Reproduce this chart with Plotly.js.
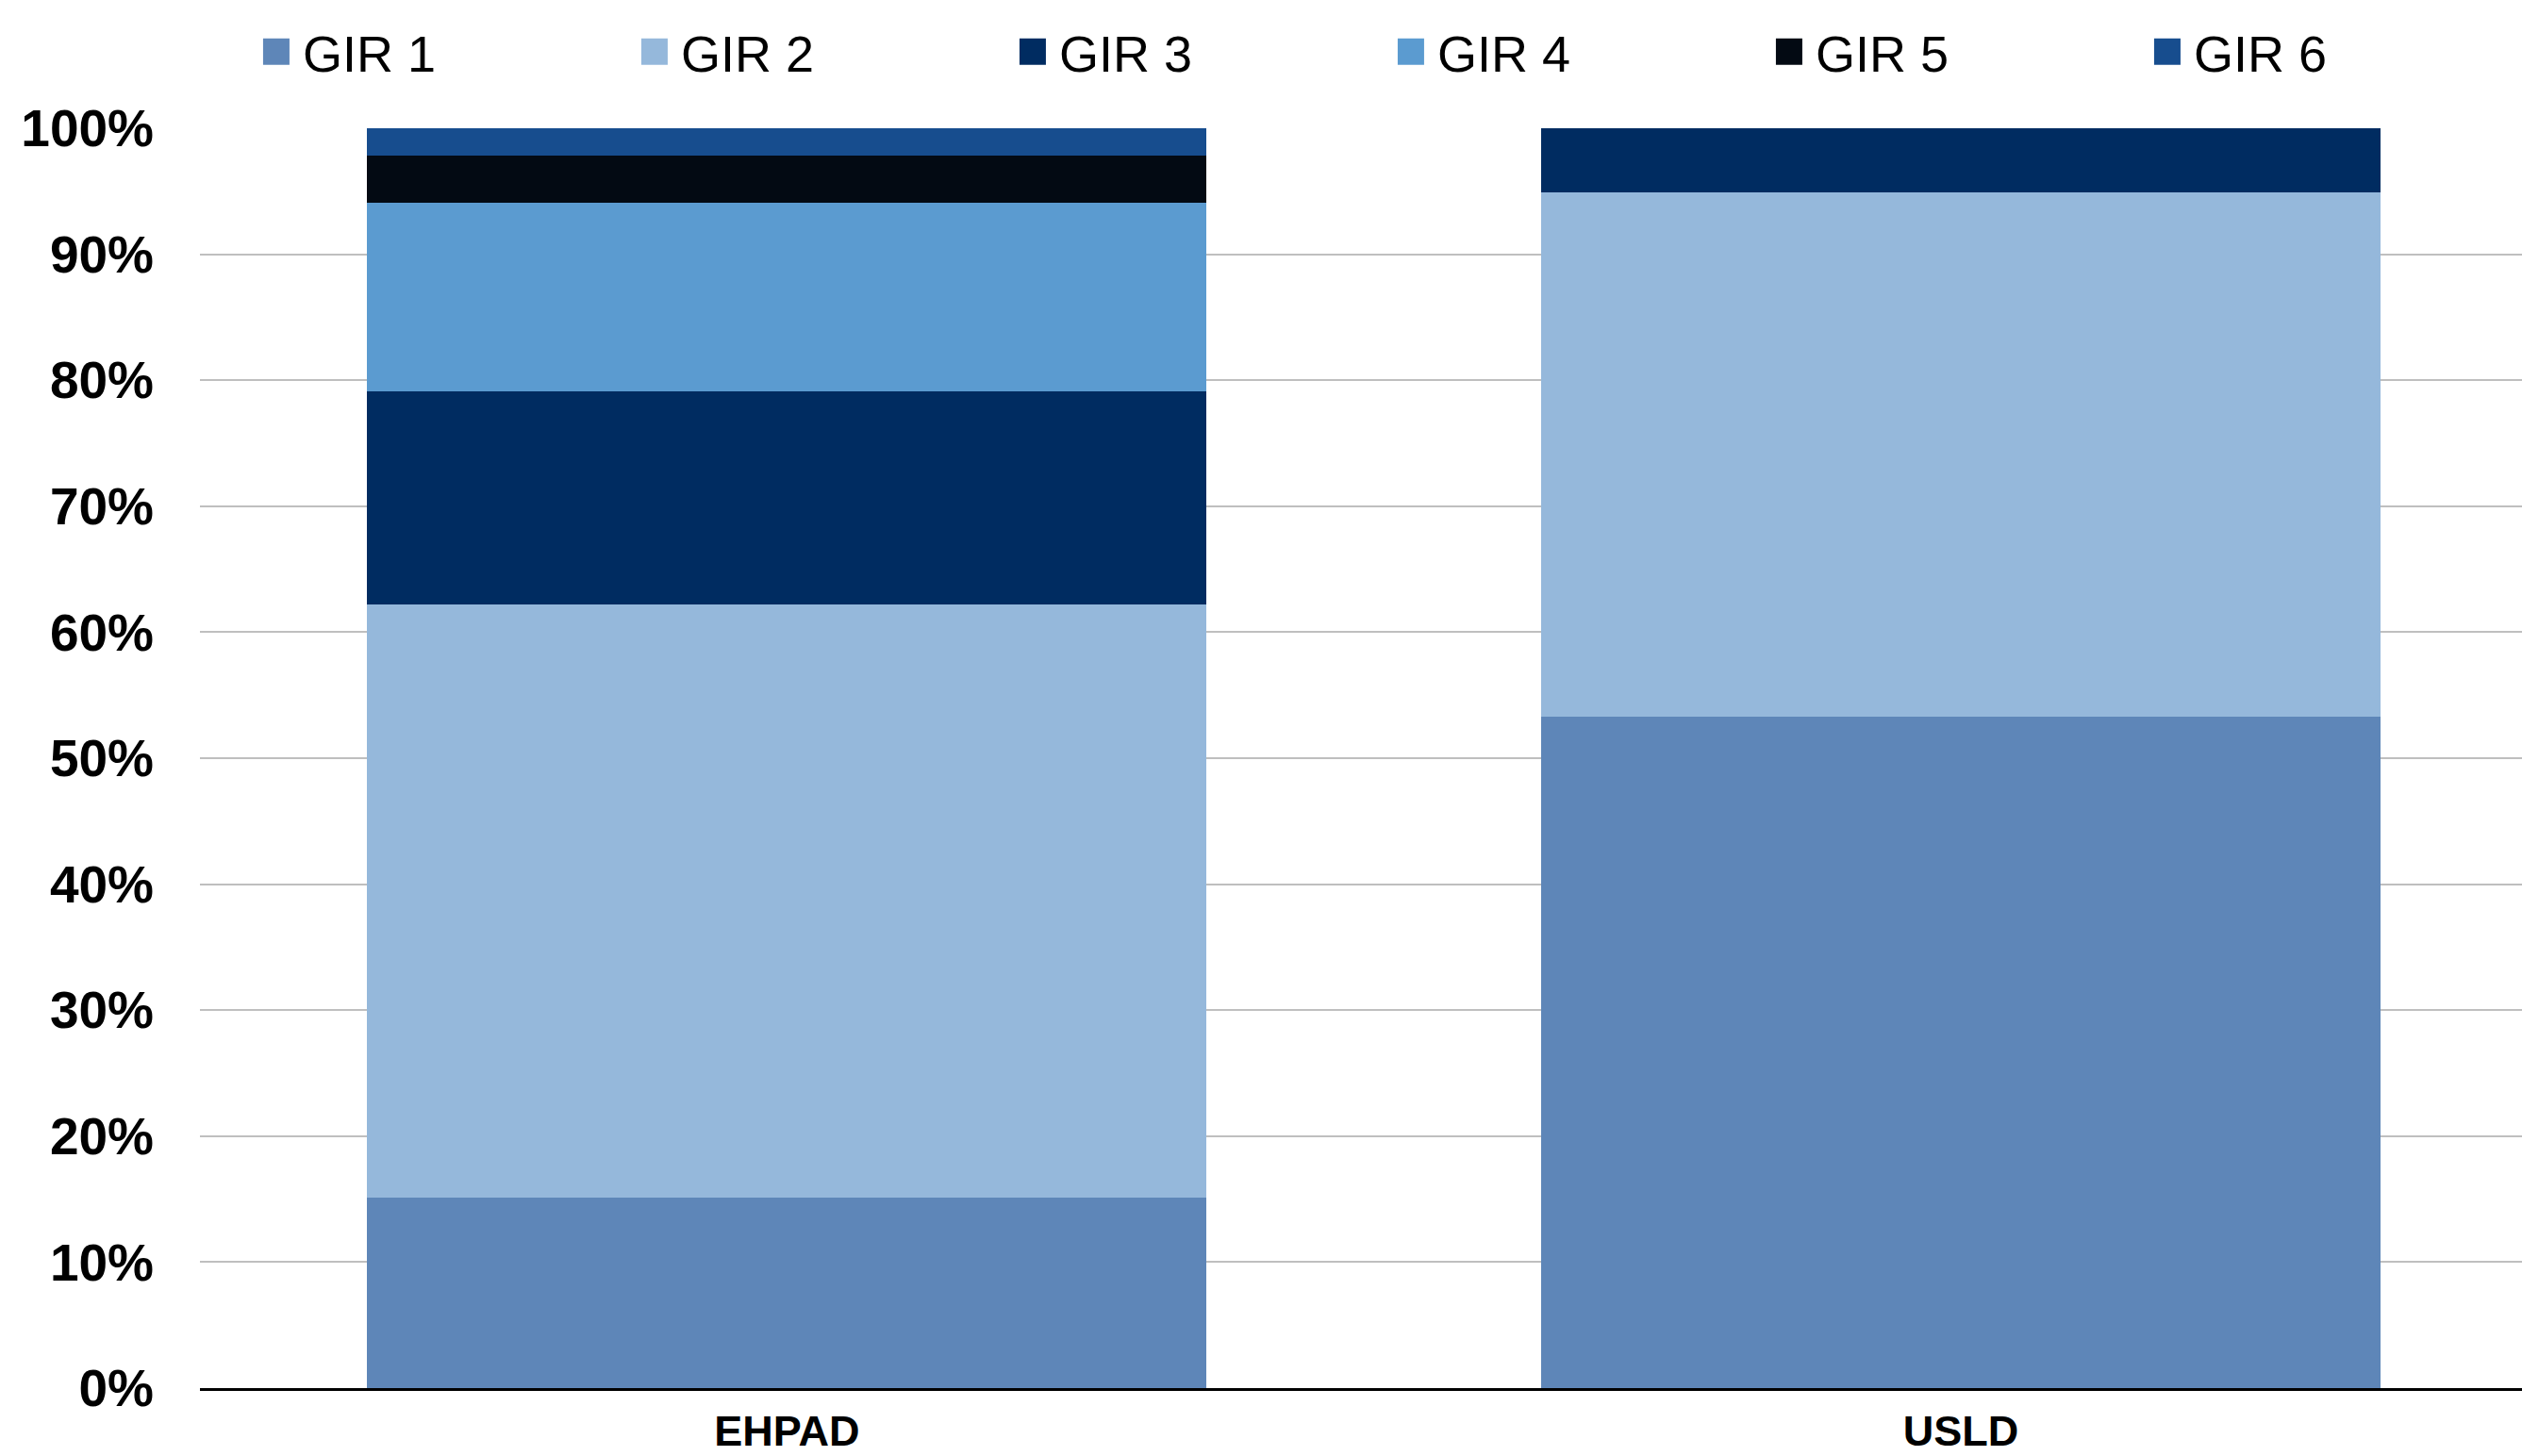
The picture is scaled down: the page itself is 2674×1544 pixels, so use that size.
<!DOCTYPE html>
<html>
<head>
<meta charset="utf-8">
<script src="https://cdn.plot.ly/plotly-3.0.1.min.js"></script>
<style>html,body{margin:0;padding:0;background:#fff;}#chart{width:2674px;height:1544px;}</style>
</head>
<body>
<div id="chart"></div>
<script>
var categories = ["EHPAD", "USLD"];
var seriesNames = ["GIR 1", "GIR 2", "GIR 3", "GIR 4", "GIR 5", "GIR 6"];
var gir1 = [0.151, 0.533];
var gir2 = [0.471, 0.416];
var gir3 = [0.169, 0.051];
var gir4 = [0.150, 0];
var gir5 = [0.037, 0];
var gir6 = [0.022, 0];
var colors = ["#5E86B8", "#95B8DB", "#002C61", "#5B9BD0", "#030A13", "#174D8E"];
var values = [gir1, gir2, gir3, gir4, gir5, gir6];

var traces = values.map(function (v, i) {
  return {
    type: "bar",
    name: seriesNames[i],
    x: categories,
    y: v,
    width: 0.715,
    marker: { color: colors[i], line: { width: 0 } },
    hoverinfo: "skip"
  };
});

var layout = {
  width: 2674,
  height: 1544,
  margin: { l: 212, r: 0, t: 136, b: 72, pad: 0 },
  paper_bgcolor: "#ffffff",
  plot_bgcolor: "#ffffff",
  barmode: "stack",
  font: { family: "Liberation Sans, Arial, sans-serif", color: "#000000" },
  showlegend: true,
  legend: {
    orientation: "h",
    x: 0.0215,
    xanchor: "left",
    y: 1.0605,
    yanchor: "middle",
    traceorder: "normal",
    itemwidth: 46,
    entrywidth: 340,
    font: { size: 54, family: "Liberation Sans, Arial, sans-serif", color: "#000000" },
    bgcolor: "rgba(0,0,0,0)"
  },
  xaxis: {
    type: "category",
    range: [-0.5, 1.478],
    showgrid: false,
    showline: true,
    linecolor: "#000000",
    linewidth: 3,
    ticks: "",
    ticklabelstandoff: 4,
    tickfont: { size: 45, family: "Liberation Sans, Arial, sans-serif", color: "#000000", weight: "bold" },
    fixedrange: true
  },
  yaxis: {
    range: [0, 1],
    dtick: 0.1,
    tick0: 0,
    tickformat: ".0%",
    showgrid: true,
    gridcolor: "#BFBFBF",
    gridwidth: 2,
    zeroline: false,
    showline: false,
    ticks: "",
    ticklabelstandoff: 48,
    tickfont: { size: 55, family: "Liberation Sans, Arial, sans-serif", color: "#000000", weight: "bold" },
    fixedrange: true
  }
};

Plotly.newPlot("chart", traces, layout, { staticPlot: true, displayModeBar: false }).then(function (gd) {
  var pts = gd.querySelectorAll(".legend .legendpoints path");
  pts.forEach(function (p) { p.setAttribute("d", "M14,14H-14V-14H14Z"); });
});
</script>
</body>
</html>
